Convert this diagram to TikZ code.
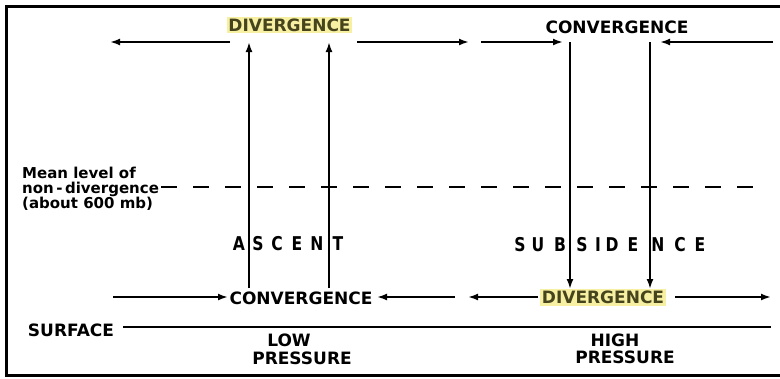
\documentclass[tikz,border=0pt]{standalone}
\usepackage{fontspec}
\setmainfont{DejaVu Sans}
\newfontfamily\narrowfont[FakeStretch=0.82]{DejaVu Sans}
\usetikzlibrary{arrows.meta}
\definecolor{hilite}{HTML}{F7F0A2}
\definecolor{olivetext}{HTML}{45441C}
\tikzset{
  flow/.style={line width=2pt, -{Latex[length=10pt,width=7pt]}},
  plain/.style={line width=2pt},
  label/.style={font=\fontsize{17}{17}\selectfont\bfseries, inner sep=0pt},
  marked/.style={label, fill=hilite, text=olivetext, minimum height=16.5pt},
  spaced/.style={font=\narrowfont\fontsize{19}{19}\selectfont\bfseries, inner sep=0pt},
  note/.style={font=\fontsize{15}{15}\selectfont\bfseries, inner sep=0pt, align=left},
}
\begin{document}
\begin{tikzpicture}[x=1pt, y=-1pt]
\useasboundingbox (0,0) rectangle (780,378);
% outer frame
\draw[line width=3pt] (6.5,6.5) rectangle (795,375);

% upper level labels
\node[marked, minimum width=125pt] (divtop) at (289.5,25) {DIVERGENCE};
\node[label] (convtop) at (617,27) {CONVERGENCE};
% lower level labels
\node[label] (convbot) at (301,298) {CONVERGENCE};
\node[marked, minimum width=126pt] (divbot) at (603,297.5) {DIVERGENCE};
\node[label] (surface) at (71,330) {SURFACE};
\node[label] (low) at (289,340) {LOW};
\node[label] (lowp) at (302,358) {PRESSURE};
\node[label] (high) at (615,340) {HIGH};
\node[label] (highp) at (625,357) {PRESSURE};
\node[note, anchor=north west] (mean) at (22,167)
  {Mean level of\\non\,-\,divergence\\(about 600 mb)};

% end points of the flow lines
\coordinate (t1a) at (230,42);  \coordinate (t1b) at (110,42);
\coordinate (t2a) at (357,42);  \coordinate (t2b) at (469,42);
\coordinate (t3a) at (481,42);  \coordinate (t3b) at (563,42);
\coordinate (t4a) at (773,42);  \coordinate (t4b) at (660,42);
\coordinate (u1a) at (249,288); \coordinate (u1b) at (249,42);
\coordinate (u2a) at (329,288); \coordinate (u2b) at (329,42);
\coordinate (d1a) at (570,42);  \coordinate (d1b) at (570,289);
\coordinate (d2a) at (650,42);  \coordinate (d2b) at (650,289);
\coordinate (b1a) at (113,297); \coordinate (b1b) at (228,297);
\coordinate (b2a) at (455,297); \coordinate (b2b) at (377,297);
\coordinate (b3a) at (538,297); \coordinate (b3b) at (468,297);
\coordinate (b4a) at (675,297); \coordinate (b4b) at (771,297);
\coordinate (s1) at (123,327);  \coordinate (s2) at (771,327);
\coordinate (m1) at (161,187);  \coordinate (m2) at (768,187);

% upper outflow / inflow
\draw[flow] (t1a) -- (t1b);
\draw[flow] (t2a) -- (t2b);
\draw[flow] (t3a) -- (t3b);
\draw[flow] (t4a) -- (t4b);
% ascent and subsidence
\draw[flow] (u1a) -- (u1b);
\draw[flow] (u2a) -- (u2b);
\draw[flow] (d1a) -- (d1b);
\draw[flow] (d2a) -- (d2b);
% lower inflow / outflow
\draw[flow] (b1a) -- (b1b);
\draw[flow] (b2a) -- (b2b);
\draw[flow] (b3a) -- (b3b);
\draw[flow] (b4a) -- (b4b);
% ground and level of non-divergence
\draw[plain] (s1) -- (s2);
\draw[line width=2.6pt, dash pattern=on 16pt off 16pt] (m1) -- (m2);

% spaced vertical-motion words
\foreach \ch/\xx [count=\i] in {A/239,S/258,C/277,E/297,N/317,T/338}
  \node[spaced] (asc\i) at (\xx,244) {\ch};
\foreach \ch/\xx [count=\i] in {S/520,U/538,B/560,S/582,I/598,D/612,E/633,N/658,C/680,E/700}
  \node[spaced] (sub\i) at (\xx,245) {\ch};
\end{tikzpicture}
\end{document}
